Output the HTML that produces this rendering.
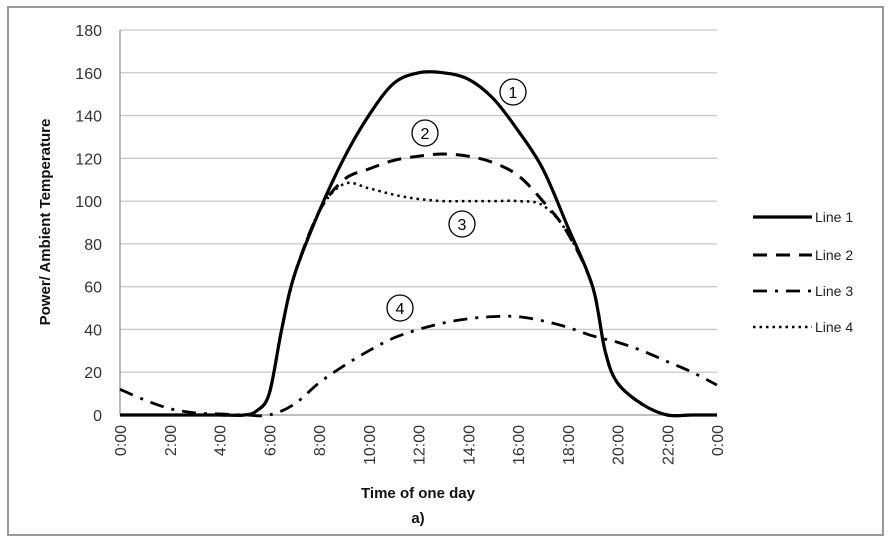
<!DOCTYPE html>
<html><head><meta charset="utf-8"><style>
body{margin:0;background:#fff;}
svg{display:block;font-family:"Liberation Sans",sans-serif;}
</style></head><body>
<svg id="chart" width="892" height="543">
<rect x="8" y="7" width="875" height="528" fill="#fff" stroke="#999" stroke-width="2"/>
<g id="grid"></g><g id="ticks"></g><g id="series"></g>
<text x="50" y="222" transform="rotate(-90 50 222)" text-anchor="middle" font-size="15" font-weight="bold" fill="#111">Power/ Ambient Temperature</text>
<text x="418" y="498" text-anchor="middle" font-size="15" font-weight="bold" fill="#111">Time of one day</text>
<text x="418" y="523" text-anchor="middle" font-size="15" font-weight="bold" fill="#111">a)</text>
<g id="legend"></g><g id="notes"></g>
</svg>
<script>
const hours=[0,1,2,3,4,5,5.5,6,6.5,7,8,9,10,11,12,13,14,15,16,17,18,19,19.5,20,21,22,23,24];
const line1=[0,0,0,0,0,0,2,10,40,65,95,120,140,155,160,160,157,148,133,115,88,60,30,15,5,0,0,0];
const line2=[0,0,0,0,0,0,2,10,40,65,95,110,115,119,121,122,121,118,112,100,85,60,30,15,5,0,0,0];
const hours3=[0,1,2,3,4,5,6,7,8,9,10,11,12,13,14,15,16,17,18,19,20,21,22,23,24];
const line3=[12,7,3,1,0.5,0,0,5,15,23,30,36,40,43,45,46,46,44,41,37,34,30,25,20,14];
const line4=[0,0,0,0,0,0,2,10,40,65,95,108,106,103,101,100,100,100,100,98,85,60,30,15,5,0,0,0];
const yTicks=[0,20,40,60,80,100,120,140,160,180];
const xTicks=["0:00","2:00","4:00","6:00","8:00","10:00","12:00","14:00","16:00","18:00","20:00","22:00","0:00"];
const L=120,R=717,T=30,B=415;
const xs=h=>L+(R-L)*h/24, ys=v=>B-(B-T)*v/180;
const NS="http://www.w3.org/2000/svg";
function mk(tag,attrs,parent){const e=document.createElementNS(NS,tag);for(const k in attrs)e.setAttribute(k,attrs[k]);parent.appendChild(e);return e;}
const grid=document.getElementById('grid'),ticks=document.getElementById('ticks');
yTicks.forEach(v=>{
 const g=mk('line',{x1:L,x2:R,y1:ys(v),y2:ys(v),stroke:v===0?'#999':'#c8c8c8','stroke-width':1.3},grid);
 
 
 const t=mk('text',{x:L-18,y:ys(v)+6,'text-anchor':'end','font-size':16,fill:'#333'},ticks);
 t.textContent=v;
 
 
});
const ax=mk('line',{x1:L,x2:L,y1:T,y2:B,stroke:'#999','stroke-width':1.3},grid);


xTicks.forEach((s,i)=>{
 const x=xs(i*2),y=B+10;
 const t=mk('text',{x:x+6,y:y,'text-anchor':'end','font-size':16,fill:'#333',transform:`rotate(-90 ${x+6} ${y})`},ticks);
 t.textContent=s;
 
 
});
function path(hx,vals){
 const p=hx.map((h,i)=>[xs(h),ys(vals[i])]);
 let d='M'+p[0][0]+','+p[0][1];
 for(let i=0;i<p.length-1;i++){
  const p0=p[Math.max(0,i-1)],p1=p[i],p2=p[i+1],p3=p[Math.min(p.length-1,i+2)];
  const c1=[p1[0]+(p2[0]-p0[0])/6,p1[1]+(p2[1]-p0[1])/6],c2=[p2[0]-(p3[0]-p1[0])/6,p2[1]-(p3[1]-p1[1])/6];
  d+=` C${c1[0]},${c1[1]} ${c2[0]},${c2[1]} ${p2[0]},${p2[1]}`;
 }
 return d;
}
const styles=[{dash:'',w:3.2},{dash:'14,9',w:3},{dash:'14,8,3,8',w:2.8},{dash:'2.5,4',w:2.5}];
const sg=document.getElementById('series');
const sets=[[hours,line1],[hours,line2],[hours3,line3],[hours,line4]];
[3,2,1,0].forEach(i=>{
 const e=mk('path',{d:path(sets[i][0],sets[i][1]),fill:'none',stroke:'#000','stroke-width':styles[i].w,'stroke-dasharray':styles[i].dash},sg);
 
 
});
const lg=document.getElementById('legend');
[217,255,291,327].forEach((y,i)=>{
 const l=mk('line',{x1:753,x2:812,y1:y,y2:y,stroke:'#000','stroke-width':styles[i].w,'stroke-dasharray':styles[i].dash},lg);
 
 
 const t=mk('text',{x:815,y:y+5,'font-size':14,fill:'#222'},lg);
 t.textContent='Line '+(i+1);
 
 
});
const notes=document.getElementById('notes');
[[513,92],[425,133],[462,224],[400,308]].forEach((c,i)=>{
 const e=mk('circle',{cx:c[0],cy:c[1],r:13,fill:'#fff',stroke:'#000','stroke-width':1.3},notes);
 
 
 const t=mk('text',{x:c[0],y:c[1]+6,'text-anchor':'middle','font-size':16,fill:'#000'},notes);
 t.textContent=i+1;
 
 
});
</script>
</body></html>
